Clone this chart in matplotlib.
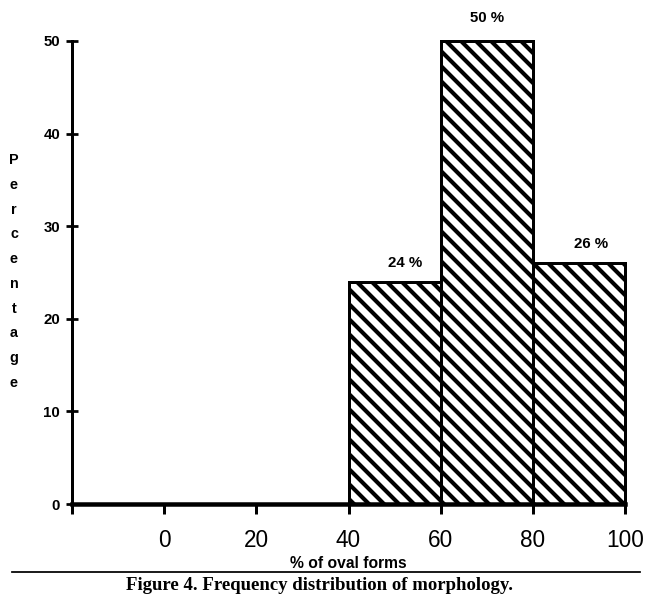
import numpy as np
import matplotlib
matplotlib.use("Agg")
import matplotlib.pyplot as plt
from matplotlib.lines import Line2D

# histogram of oval forms
bin_left = [40, 60, 80]
bin_width = 20
percent = [24, 50, 26]
bar_labels = ["24 %", "50 %", "26 %"]

xticks = [-20, 0, 20, 40, 60, 80, 100]
xtick_labels = ["", "0", "20", "40", "60", "80", "100"]
yticks = [0, 10, 20, 30, 40, 50]

W, H, DPI = 650, 604, 90
plt.rcParams['hatch.linewidth'] = 3.3
plt.rcParams['font.family'] = ['Liberation Sans', 'DejaVu Sans']

fig = plt.figure(figsize=(W / DPI, H / DPI), dpi=DPI)
ax = fig.add_axes([72 / W, 1 - 504 / H, (625 - 72) / W, (504 - 41) / H])

bars = ax.bar(bin_left, percent, width=bin_width, align='edge',
              facecolor='white', edgecolor='black', linewidth=2.4,
              hatch='\\\\', clip_on=False, zorder=3)

# value labels above bars
offsets = [(8.4, 9.2), (0, 12.4), (9.6, 10)]
for b, lab, off in zip(bars, bar_labels, offsets):
    ax.annotate(lab, (b.get_x() + b.get_width() / 2, b.get_height()),
                xytext=off, textcoords='offset points', ha='center', va='bottom',
                fontsize=12, fontweight='bold')

ax.set_xlim(-20, 100)
ax.set_ylim(0, 50)
for s in ['top', 'right']:
    ax.spines[s].set_visible(False)
ax.spines['left'].set_linewidth(2.4)
ax.spines['bottom'].set_linewidth(3.6)
ax.spines['bottom'].set_zorder(4)

ax.set_yticks(yticks)
ax.set_yticklabels([str(v) for v in yticks], fontsize=12, fontweight='bold')
ax.tick_params(axis='y', direction='inout', length=9, width=2.2, pad=5)

ax.set_xticks(xticks)
ax.set_xticklabels(xtick_labels, fontsize=18)
ax.tick_params(axis='x', direction='out', length=8, width=2.4, pad=12)

ax.set_xlabel("% of oval forms", fontsize=12.5, fontweight='bold', labelpad=3)

# vertical stacked y label
ylab = "Percentage"
ys = np.linspace(1 - 160 / H, 1 - 383 / H, len(ylab))
for ch, yy in zip(ylab, ys):
    fig.text(14 / W, yy, ch, ha='center', va='center', fontsize=11.5, fontweight='bold')

# rule and caption
fig.add_artist(Line2D([12 / W, 640 / W], [1 - 572 / H, 1 - 572 / H],
                      color='black', linewidth=1.4))
fig.text(319 / W, 1 - 586 / H, "Figure 4. Frequency distribution of morphology.",
         ha='center', va='center', fontsize=15, fontweight='bold',
         family=['Liberation Serif', 'DejaVu Serif'])

fig.savefig("out.png", dpi=DPI)
